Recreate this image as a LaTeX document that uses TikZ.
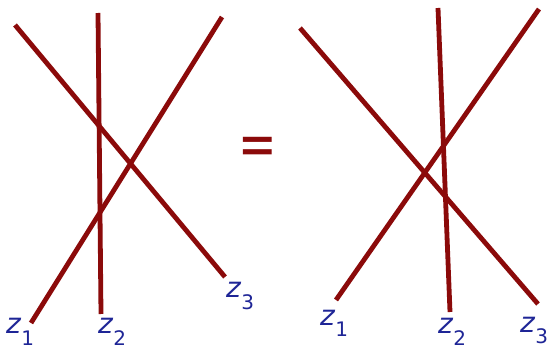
\documentclass[tikz,border=0pt]{standalone}
\usepackage{fontspec}
\setmainfont{DejaVu Sans}
\definecolor{strandred}{HTML}{8B0A0A}
\definecolor{labelblue}{HTML}{1E2596}
\tikzset{
  strand/.style={draw=strandred, line width=4.8pt},
  zlabel/.style={text=labelblue, anchor=base west, inner sep=0pt,
    font=\fontsize{28}{28}\selectfont},
  eqsign/.style={text=strandred, inner sep=0pt,
    font=\fontsize{46}{46}\selectfont},
}
\newcommand{\zsub}[1]{\textit{z}\raisebox{-11.5pt}{\fontsize{20}{20}\selectfont #1}}

\begin{document}
\begin{tikzpicture}[x=1pt, y=-1pt]
    \useasboundingbox (0, 0) rectangle (547, 350);

    % Left braid: end points
    \coordinate (la1) at (31, 323);  \coordinate (lb1) at (222, 17);
    \coordinate (la2) at (101, 314); \coordinate (lb2) at (98, 13);
    \coordinate (la3) at (225, 277); \coordinate (lb3) at (15, 25);

    % Right braid: end points
    \coordinate (ra1) at (336, 300); \coordinate (rb1) at (539, 9);
    \coordinate (ra2) at (450, 312); \coordinate (rb2) at (438, 8);
    \coordinate (ra3) at (538, 304); \coordinate (rb3) at (300, 28);

    % Strands
    \draw[strand] (la1) -- (lb1);
    \draw[strand] (la2) -- (lb2);
    \draw[strand] (la3) -- (lb3);
    \draw[strand] (ra1) -- (rb1);
    \draw[strand] (ra2) -- (rb2);
    \draw[strand] (ra3) -- (rb3);

    % Equality
    \node[eqsign] (eq) at (257.5, 151) {\scalebox{1}[1.35]{=}};

    % Labels
    \node[zlabel] (lz1) at (6, 334) {\zsub{1}};
    \node[zlabel] (lz2) at (98, 334) {\zsub{2}};
    \node[zlabel] (lz3) at (226, 298) {\zsub{3}};
    \node[zlabel] (rz1) at (320, 325) {\zsub{1}};
    \node[zlabel] (rz2) at (438, 334) {\zsub{2}};
    \node[zlabel] (rz3) at (520, 332) {\zsub{3}};
\end{tikzpicture}
\end{document}
